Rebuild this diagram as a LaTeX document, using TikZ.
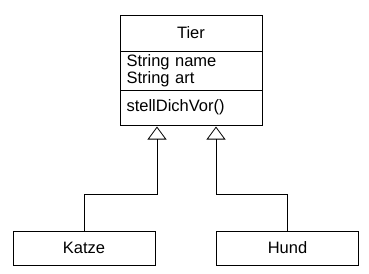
\documentclass[tikz,border=0pt]{standalone}
\usepackage{fontspec}
\setmainfont{Liberation Sans}
\usetikzlibrary{positioning,arrows.meta}

\begin{document}
\begin{tikzpicture}[
            font=\fontsize{16.5}{17}\selectfont,
            classbox/.style={
                draw,
                line width=0.8pt,
                outer sep=0pt,
                inner xsep=6.5pt,
                minimum width=142pt
            },
            inherit/.style={-{Triangle[open, length=13pt, width=19pt]}, line width=0.8pt},
            node distance=0pt
        ]
        \useasboundingbox (0,0) rectangle (369pt,-273pt);

        % Klasse Tier mit drei Abschnitten
        \node[classbox, anchor=north, minimum height=36pt] (tier) at (191pt,-15pt) {Tier};
        \node[classbox, below=of tier, minimum height=35pt,
              text width=129pt, align=left] (attr) {String name\\String art};
        \node[classbox, below=of attr, minimum height=35pt,
              text width=129pt, align=left] (meth) {stellDichVor()};

        % Unterklassen
        \node[classbox, minimum height=34pt] (katze) at (84pt,-248pt) {Katze};
        \node[classbox, minimum height=34pt] (hund) at (287.5pt,-248pt) {Hund};

        % Vererbung
        \draw[inherit] (katze.north) -- ++(0,37pt) -| ([xshift=-34pt,yshift=-1.5pt]meth.south);
        \draw[inherit] (hund.north) -- ++(0,37pt) -| ([xshift=25pt,yshift=-1.5pt]meth.south);
\end{tikzpicture}
\end{document}
